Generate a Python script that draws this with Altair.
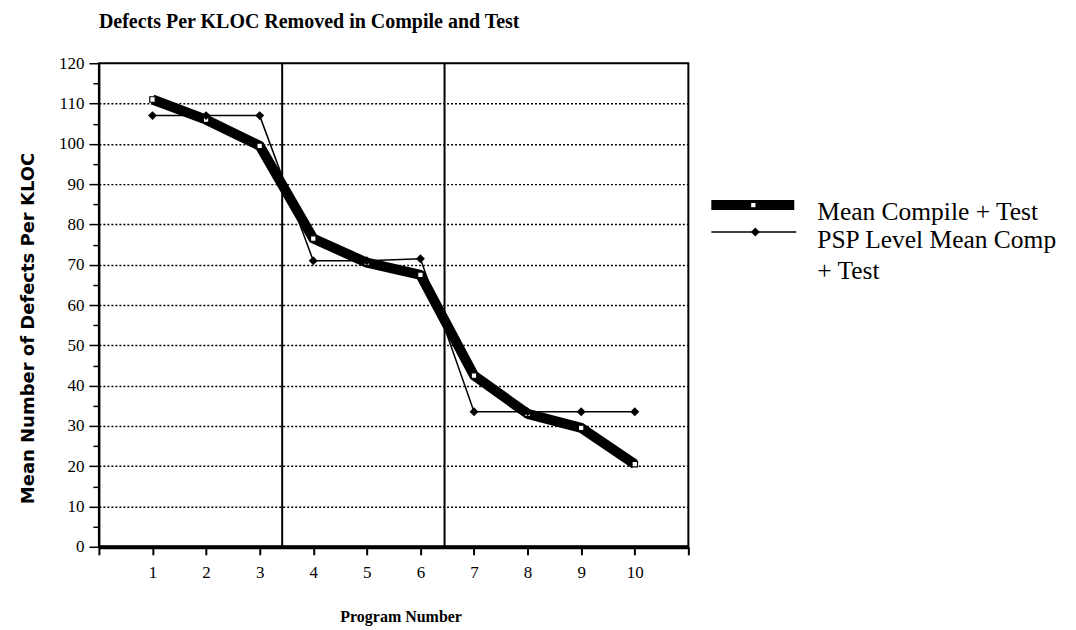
import altair as alt
import pandas as pd

# ---- data ----
programs = [1, 2, 3, 4, 5, 6, 7, 8, 9, 10]
mean_compile_test = [111, 106, 99.5, 76.5, 70.5, 67.5, 42.5, 33, 29.5, 20.5]
psp_level_mean = [107, 107, 107, 71, 71, 71.5, 33.5, 33.5, 33.5, 33.5]
level_boundaries = [3.42, 6.45]
y_tick_values = list(range(0, 121, 5))
x_tick_values = list(range(0, 12))
series_names = ["Mean Compile + Test", "PSP Level Mean Comp + Test"]
title_text = "Defects Per KLOC Removed in Compile and Test"
x_title = "Program Number"
y_title = "Mean Number of Defects Per KLOC"

W, H = 590, 484
SERIF = "Liberation Serif"

df = pd.DataFrame({"program": programs, "mean": mean_compile_test, "psp": psp_level_mean})
bounds_df = pd.DataFrame({"b": level_boundaries})

x_scale = alt.Scale(domain=[0, 11], nice=False, zero=False)
y_scale = alt.Scale(domain=[0, 120], nice=False)

major = "datum.value % 10 === 0"

x_axis = alt.Axis(
    values=x_tick_values,
    labelExpr="datum.value >= 1 && datum.value <= 10 ? datum.label : ''",
    grid=False, tickSize=8, tickWidth=2, tickColor="black",
    domainWidth=4, domainColor="black",
    labelFont=SERIF, labelFontSize=17, labelColor="black", labelPadding=10,
    labelFlush=False,
    title=x_title, titleFont=SERIF, titleFontSize=16, titleFontWeight="bold",
    titleColor="black", titlePadding=28, titleX=302, titleAlign="center",
)
y_axis = alt.Axis(
    values=y_tick_values,
    labelExpr=major + " ? datum.label : ''",
    grid=True, gridColor="black", gridDash=[2, 2], gridWidth=1.5,
    gridOpacity={"condition": {"test": major + " && datum.value > 0 && datum.value < 120", "value": 1}, "value": 0},
    tickSize={"condition": {"test": major, "value": 10}, "value": 6},
    tickWidth=1.5, tickColor="black",
    domainWidth=2, domainColor="black",
    labelFont=SERIF, labelFontSize=17, labelColor="black", labelPadding=5,
    labelFlush=False,
    title=y_title, titleFont="DejaVu Sans", titleFontSize=18, titleFontWeight="bold",
    titleColor="black", titleAngle=270, titleBaseline="middle",
    titleX=-70, titleY=265, titleAlign="center",
)

X = alt.X("program:Q", scale=x_scale, axis=x_axis)
base = alt.Chart(df)

psp_line = base.mark_line(color="black", strokeWidth=1.5).encode(
    x=X, y=alt.Y("psp:Q", scale=y_scale, axis=y_axis),
)
psp_pts = base.mark_point(shape="diamond", filled=True, color="black", size=80, opacity=1).encode(
    x=X, y=alt.Y("psp:Q", scale=y_scale, axis=y_axis),
)
bound_rules = alt.Chart(bounds_df).mark_rule(color="black", strokeWidth=2).encode(
    x=alt.X("b:Q", scale=x_scale, axis=x_axis),
)
mean_line = base.mark_line(color="black", strokeWidth=10, strokeJoin="round").encode(
    x=X, y=alt.Y("mean:Q", scale=y_scale, axis=y_axis),
)
mean_pts = base.mark_point(shape="square", filled=True, fill="white", stroke="black",
                           strokeWidth=1.2, size=30, opacity=1).encode(
    x=X, y=alt.Y("mean:Q", scale=y_scale, axis=y_axis),
)

# ---- legend (drawn by hand to the right of the plot) ----
one = pd.DataFrame({"name": series_names})
leg1 = alt.Chart(one.iloc[[0]])
leg2 = alt.Chart(one.iloc[[1]])
leg_rule1 = leg1.mark_rule(color="black", strokeWidth=10).encode(
    x=alt.value(613), x2=alt.value(696), y=alt.value(142))
leg_pt1 = leg1.mark_point(shape="square", filled=True, fill="white", stroke="black",
                          strokeWidth=1.2, size=30, opacity=1).encode(
    x=alt.value(655), y=alt.value(142))
leg_rule2 = leg2.mark_rule(color="black", strokeWidth=1.5).encode(
    x=alt.value(613), x2=alt.value(698), y=alt.value(169))
leg_pt2 = leg2.mark_point(shape="diamond", filled=True, color="black", size=80, opacity=1).encode(
    x=alt.value(657), y=alt.value(169))
leg_txt1 = leg1.mark_text(align="left", baseline="middle", font=SERIF, fontSize=25.5,
                          color="black").encode(
    text="name:N", x=alt.value(719), y=alt.value(149))
leg_txt2 = leg2.transform_calculate(
    wrapped="replace(datum.name, ' + ', '\\n+ ')"
).mark_text(align="left", baseline="middle", font=SERIF, fontSize=25.5, color="black",
            lineBreak="\n", lineHeight=31).encode(
    text="wrapped:N", x=alt.value(719), y=alt.value(177))

chart = alt.layer(
    psp_line, bound_rules, mean_line, mean_pts, psp_pts,
    leg_rule1, leg_pt1, leg_rule2, leg_pt2, leg_txt1, leg_txt2,
).properties(
    width=W, height=H,
    title=alt.TitleParams(title_text, anchor="start", frame="group", font=SERIF,
                          fontSize=20, fontWeight="bold", color="black", offset=22),
    autosize=alt.AutoSizeParams(type="none"),
    padding={"left": 91, "top": 55, "right": 380, "bottom": 80},
    background="white",
).configure_view(
    stroke="black", strokeWidth=2,
)

chart.save("out.html", embed_options={"renderer": "svg", "actions": False})
